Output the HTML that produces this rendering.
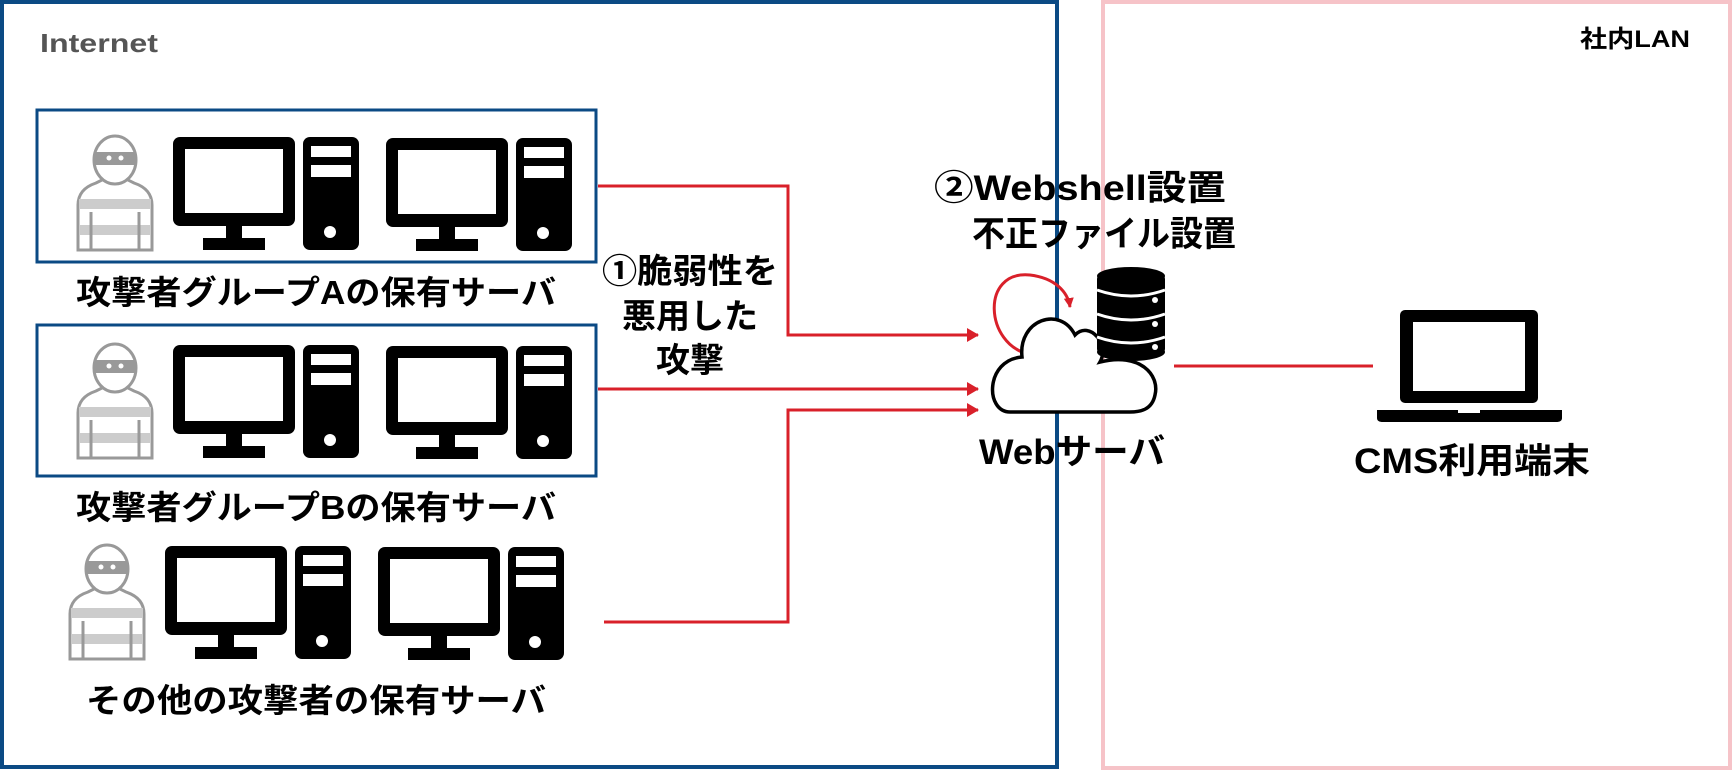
<!DOCTYPE html>
<html><head><meta charset="utf-8"><style>
html,body{margin:0;padding:0;background:#fff;}
svg{display:block;}
text{font-family:"Liberation Sans","Noto Sans CJK JP",sans-serif;font-weight:bold;}
</style></head><body>
<svg width="1733" height="772" viewBox="0 0 1733 772" xmlns="http://www.w3.org/2000/svg">
<defs>
<g id="grp">
  <path d="M4 113 L4 68 Q4 52 22 46 L32 41 L50 41 L60 46 Q78 52 78 68 L78 113 Z" fill="#fff" stroke="#999" stroke-width="3"/>
  <rect x="5" y="62" width="72" height="10" fill="#ccc"/>
  <rect x="5" y="88" width="72" height="10" fill="#ccc"/>
  <line x1="17" y1="75" x2="17" y2="112" stroke="#999" stroke-width="3"/>
  <line x1="65" y1="75" x2="65" y2="112" stroke="#999" stroke-width="3"/>
  <ellipse cx="41" cy="23" rx="21" ry="24" fill="#fff" stroke="#999" stroke-width="3"/>
  <rect x="21" y="15" width="40" height="13" fill="#999"/>
  <circle cx="35" cy="21" r="2.5" fill="#fff"/><circle cx="47" cy="21" r="2.5" fill="#fff"/>
  <rect x="99" y="0" width="122" height="89" rx="7" fill="#000"/>
  <rect x="111" y="12" width="98" height="64" fill="#fff"/>
  <rect x="152" y="89" width="16" height="13" fill="#000"/>
  <rect x="129" y="101" width="62" height="12" fill="#000"/>
  <rect x="229" y="0" width="56" height="113" rx="7" fill="#000"/>
  <rect x="237" y="9" width="40" height="11" fill="#fff"/>
  <rect x="237" y="28" width="40" height="12" fill="#fff"/>
  <circle cx="256" cy="95" r="6" fill="#fff"/>
  <rect x="312" y="1" width="122" height="89" rx="7" fill="#000"/>
  <rect x="324" y="13" width="98" height="64" fill="#fff"/>
  <rect x="365" y="90" width="16" height="13" fill="#000"/>
  <rect x="342" y="102" width="62" height="12" fill="#000"/>
  <rect x="442" y="1" width="56" height="113" rx="7" fill="#000"/>
  <rect x="450" y="10" width="40" height="11" fill="#fff"/>
  <rect x="450" y="29" width="40" height="12" fill="#fff"/>
  <circle cx="469" cy="96" r="6" fill="#fff"/>
</g>
<marker id="ah" markerWidth="10" markerHeight="10" refX="9" refY="5" orient="auto" markerUnits="userSpaceOnUse">
  <path d="M0 0 L10 5 L0 10 Z" fill="#d9202a"/>
</marker>
<marker id="ah2" markerWidth="12" markerHeight="14" refX="11" refY="7" orient="auto" markerUnits="userSpaceOnUse">
  <path d="M0 0 L12 7 L0 14 Z" fill="#d9202a"/>
</marker>
</defs>

<rect x="2" y="2" width="1055" height="765" fill="none" stroke="#0b4a84" stroke-width="4"/>
<rect x="1103" y="2" width="627" height="766" fill="none" stroke="#f6c3c8" stroke-width="4"/>
<text x="40" y="52" font-size="26" fill="#555" textLength="118" lengthAdjust="spacingAndGlyphs">Internet</text>
<text x="1580" y="47" font-size="24" fill="#000" textLength="110" lengthAdjust="spacingAndGlyphs">社内LAN</text>

<rect x="37" y="110" width="559" height="152" fill="none" stroke="#0b4a84" stroke-width="3"/>
<rect x="37" y="325" width="559" height="151" fill="none" stroke="#0b4a84" stroke-width="3"/>

<use href="#grp" transform="translate(74,137)"/>
<use href="#grp" transform="translate(74,345)"/>
<use href="#grp" transform="translate(66,546)"/>

<text x="316" y="304" font-size="33" text-anchor="middle" textLength="480" lengthAdjust="spacingAndGlyphs">攻撃者グループAの保有サーバ</text>
<text x="316" y="519" font-size="33" text-anchor="middle" textLength="480" lengthAdjust="spacingAndGlyphs">攻撃者グループBの保有サーバ</text>
<text x="316" y="712" font-size="33" text-anchor="middle" textLength="460" lengthAdjust="spacingAndGlyphs">その他の攻撃者の保有サーバ</text>

<g stroke="#d9202a" stroke-width="3" fill="none">
  <polyline points="598,186 788,186 788,335 978,335" marker-end="url(#ah2)"/>
  <line x1="598" y1="389" x2="978" y2="389" marker-end="url(#ah2)"/>
  <polyline points="604,622 788,622 788,410 978,410" marker-end="url(#ah2)"/>
  <line x1="1174" y1="366" x2="1373" y2="366"/>
  <path d="M1029 354 C 985 345, 980 270, 1030 275 C 1055 278, 1068 292, 1070 307" marker-end="url(#ah)"/>
</g>

<text x="690" y="283" font-size="34" text-anchor="middle" textLength="176" lengthAdjust="spacingAndGlyphs">①脆弱性を</text>
<text x="690" y="328" font-size="34" text-anchor="middle" textLength="136" lengthAdjust="spacingAndGlyphs">悪用した</text>
<text x="690" y="372" font-size="34" text-anchor="middle" textLength="68" lengthAdjust="spacingAndGlyphs">攻撃</text>

<text x="934" y="200" font-size="35" textLength="292" lengthAdjust="spacingAndGlyphs">②Webshell設置</text>
<text x="972" y="246" font-size="35" textLength="264" lengthAdjust="spacingAndGlyphs">不正ファイル設置</text>

<path d="M1010 412 C 985 412, 985 360, 1022 357 C 1018 320, 1060 305, 1075 335 C 1090 320, 1110 345, 1100 362 C 1140 352, 1160 375, 1155 395 C 1152 410, 1140 412, 1130 412 Z" fill="#fff" stroke="#000" stroke-width="3.5"/>
<g>
  <rect x="1097" y="275" width="68" height="78" fill="#000" rx="4"/>
  <ellipse cx="1131" cy="276" rx="34" ry="9" fill="#000"/>
  <ellipse cx="1131" cy="352" rx="34" ry="9" fill="#000"/>
  <path d="M1097 290 Q1131 302 1165 290" stroke="#fff" stroke-width="3" fill="none"/>
  <path d="M1097 314 Q1131 326 1165 314" stroke="#fff" stroke-width="3" fill="none"/>
  <path d="M1097 337 Q1131 349 1165 337" stroke="#fff" stroke-width="3" fill="none"/>
  <circle cx="1155" cy="300" r="3" fill="#fff"/><circle cx="1155" cy="324" r="3" fill="#fff"/><circle cx="1155" cy="347" r="3" fill="#fff"/>
</g>
<text x="979" y="464" font-size="35" textLength="186" lengthAdjust="spacingAndGlyphs">Webサーバ</text>

<rect x="1400" y="310" width="138" height="93" rx="5" fill="#000"/>
<rect x="1413" y="322" width="112" height="69" fill="#fff"/>
<path d="M1377 410 L1562 410 L1562 418 Q1562 422 1556 422 L1383 422 Q1377 422 1377 418 Z" fill="#000"/>
<rect x="1458" y="410" width="22" height="3" fill="#fff"/>
<text x="1354" y="473" font-size="35" textLength="236" lengthAdjust="spacingAndGlyphs">CMS利用端末</text>
</svg>
</body></html>
